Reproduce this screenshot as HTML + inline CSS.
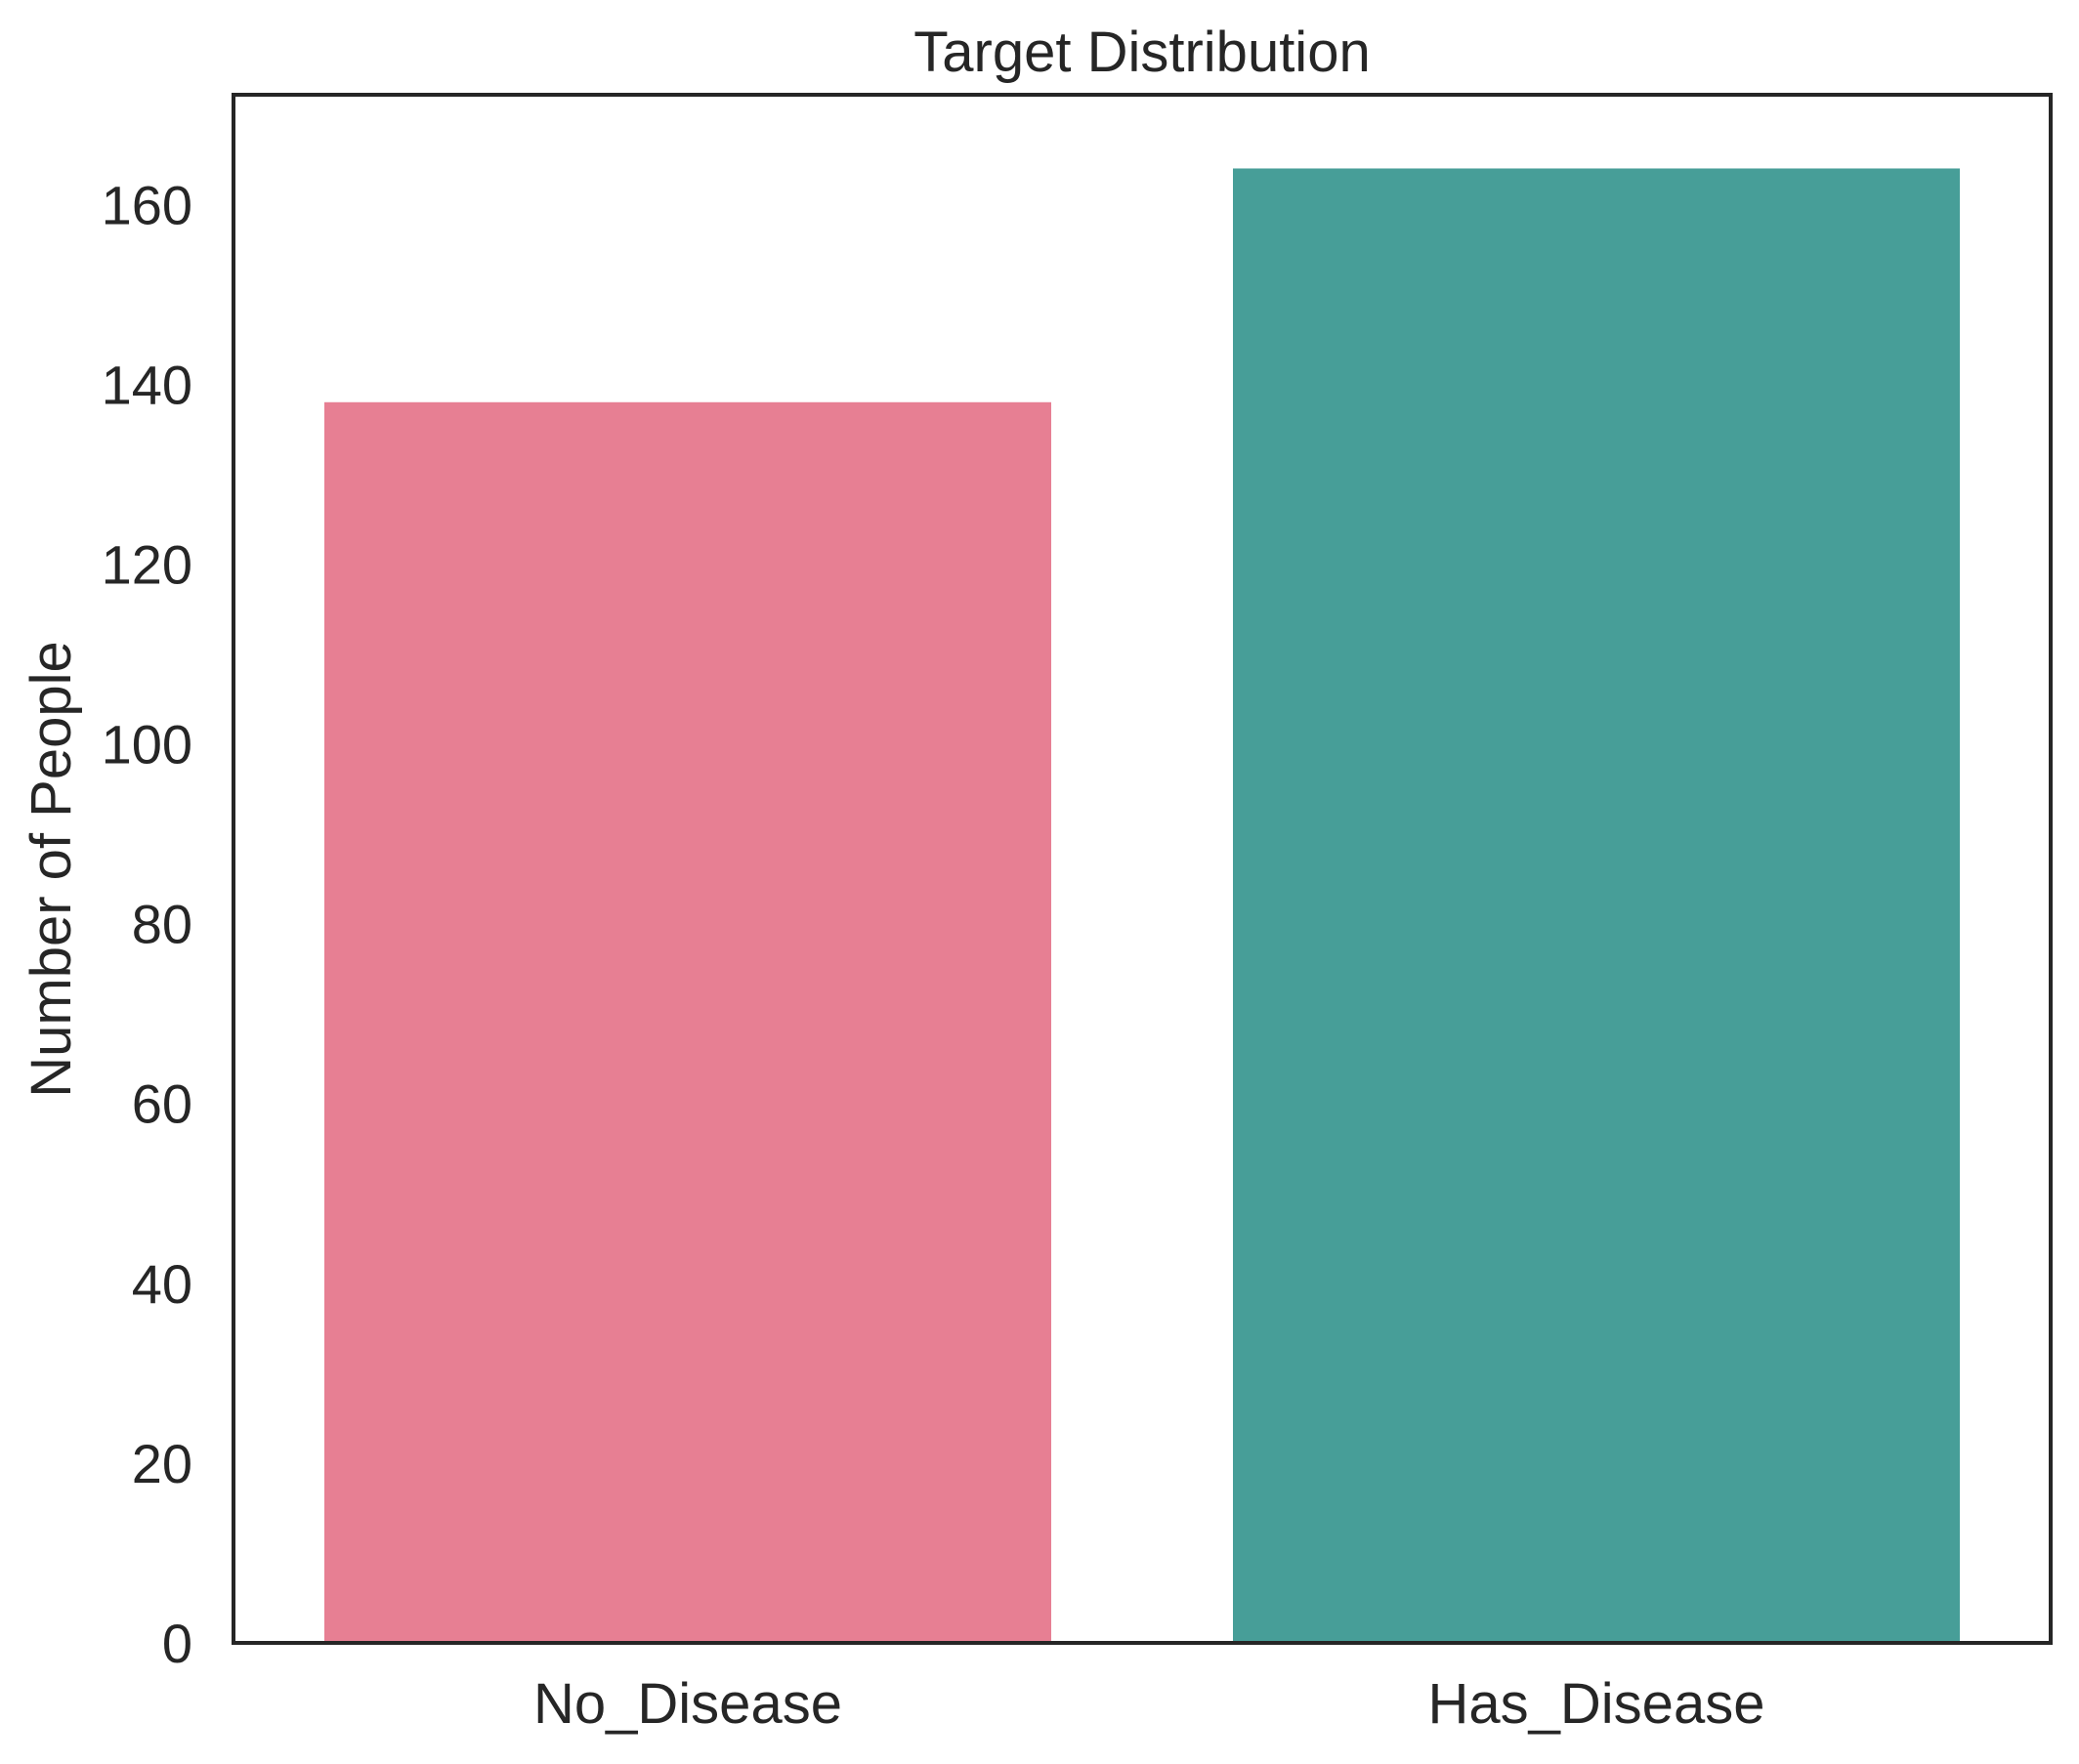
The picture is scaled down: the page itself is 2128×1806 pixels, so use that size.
<!DOCTYPE html>
<html><head><meta charset="utf-8"><style>
html,body{margin:0;padding:0;background:#fff}
svg{display:block;font-family:"Liberation Sans",Arial,sans-serif;fill:#262626}
</style></head><body>
<svg id="chart" width="2128" height="1806" viewBox="0 0 2128 1806" xmlns="http://www.w3.org/2000/svg">
<rect width="2128" height="1806" fill="#fff"/>
<g id="bars"></g>
<g id="yticks"></g>
<g id="xticks"></g>
<rect x="239" y="97" width="1860" height="1585" fill="none" stroke="#262626" stroke-width="4"/>
<text x="1169" y="73" font-size="58" text-anchor="middle">Target Distribution</text>
<text transform="translate(72,890) rotate(-90)" font-size="58" text-anchor="middle">Number of People</text>
</svg>
<script>
const categories = ["No_Disease", "Has_Disease"];
const counts = [138, 164];
const colors = ["#e77f93", "#479e98"];
const yTicks = [0, 20, 40, 60, 80, 100, 120, 140, 160];

const L=239,R=2099,T=97,B=1682;
const yMax=Math.max(...counts)*1.05;
const y=v=>B-(v/yMax)*(B-T);
const bw=(R-L)/categories.length;
const x=i=>L+bw*(i+0.5);
const NS="http://www.w3.org/2000/svg";
const bars=document.getElementById('bars');
categories.forEach((c,i)=>{
  const r=document.createElementNS(NS,'rect');
  
  
  const w=bw*0.8;
  r.setAttribute('x',x(i)-w/2);r.setAttribute('width',w);
  r.setAttribute('y',y(counts[i]));r.setAttribute('height',B-y(counts[i]));
  r.setAttribute('fill',colors[i]);
  bars.appendChild(r);
  const t=document.createElementNS(NS,'text');
  
  
  t.setAttribute('x',x(i));t.setAttribute('y',B+82);
  t.setAttribute('font-size','58');t.setAttribute('text-anchor','middle');
  t.textContent=c;
  document.getElementById('xticks').appendChild(t);
});
yTicks.forEach(v=>{
  const t=document.createElementNS(NS,'text');
  
  
  t.setAttribute('x',L-42);t.setAttribute('y',y(v)+20);
  t.setAttribute('font-size','56');t.setAttribute('text-anchor','end');
  t.textContent=v;
  document.getElementById('yticks').appendChild(t);
});
</script>
</body></html>
